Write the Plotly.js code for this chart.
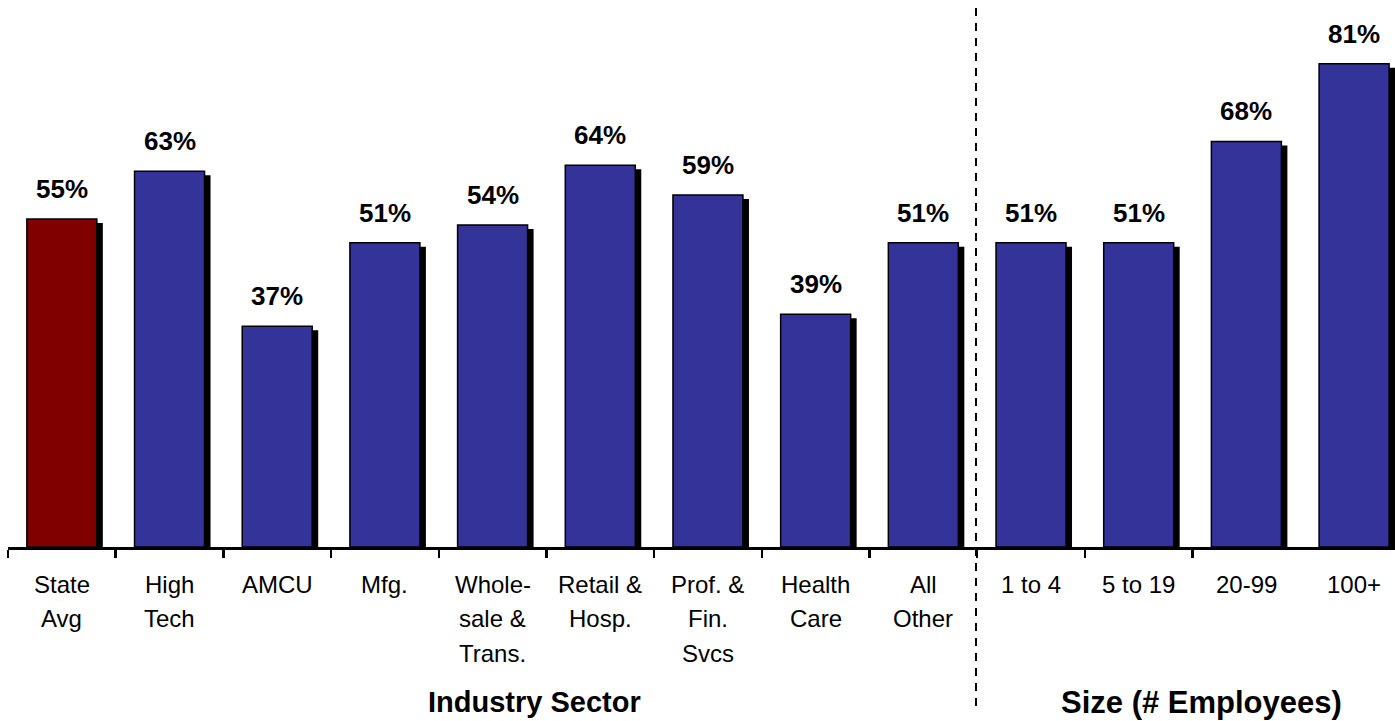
<!DOCTYPE html>
<html>
<head>
<meta charset="utf-8">
<script src="https://cdn.plot.ly/plotly-3.0.1.min.js"></script>
<style>html,body{margin:0;padding:0;background:#fff;}#chart{width:1395px;height:721px;}</style>
</head>
<body>
<div id="chart"></div>
<script>
const categories = ["State<br>Avg", "High<br>Tech", "AMCU", "Mfg.", "Whole-<br>sale &<br>Trans.", "Retail &<br>Hosp.", "Prof. &<br>Fin.<br>Svcs", "Health<br>Care", "All<br>Other", "1 to 4", "5 to 19", "20-99", "100+"];
const values = [55, 63, 37, 51, 54, 64, 59, 39, 51, 51, 51, 68, 81];
const valueLabels = ["55%", "63%", "37%", "51%", "54%", "64%", "59%", "39%", "51%", "51%", "51%", "68%", "81%"];
const barColors = ["#800000", "#333399", "#333399", "#333399", "#333399", "#333399", "#333399", "#333399", "#333399", "#333399", "#333399", "#333399", "#333399"];
const groupTitles = ["Industry Sector", "Size (# Employees)"];

const FONT = "Liberation Sans, Arial, Helvetica, sans-serif";
const idx = values.map((v, i) => i);
const pxPerCat = 1387 / 12.88;
const pxPerPct = 5.965;
const W = 0.65;

const shadow = {
  type: "bar", x: idx, y: values,
  base: idx.map(() => -4 / pxPerPct),
  width: idx.map(() => W), offset: idx.map(() => -W / 2 + 6 / pxPerCat),
  marker: {color: "#000", line: {width: 0}},
  hoverinfo: "skip", showlegend: false
};
const bars = {
  type: "bar", x: idx, y: values,
  width: idx.map(() => W), offset: idx.map(() => -W / 2),
  marker: {color: barColors, line: {color: "#000", width: 1.5}},
  showlegend: false
};

const annotations = [];
values.forEach((v, i) => {
  annotations.push({x: i, y: v, xref: "x", yref: "y", text: valueLabels[i], showarrow: false,
    xanchor: "center", yanchor: "bottom", yshift: 13, font: {family: FONT, size: 26, color: "#000", weight: "bold"}});
  categories[i].split("<br>").forEach((line, j) => {
    annotations.push({x: i, y: 0, xref: "x", yref: "paper", text: line, showarrow: false,
      xanchor: "center", yanchor: "middle", yshift: -37 - 34.5 * j, font: {family: FONT, size: 24, color: "#000"}});
  });
});
annotations.push({x: (534 - 8) / 1387, y: 0, xref: "paper", yref: "paper", text: groupTitles[0], showarrow: false,
  xanchor: "center", yanchor: "middle", yshift: -155, font: {family: FONT, size: 29, color: "#000", weight: "bold"}});
annotations.push({x: (1201 - 8) / 1387, y: 0, xref: "paper", yref: "paper", text: groupTitles[1], showarrow: false,
  xanchor: "center", yanchor: "middle", yshift: -155, font: {family: FONT, size: 31, color: "#000", weight: "bold"}});

const tickvals = [];
for (let i = 0; i < 12; i++) tickvals.push(i - 0.5);

const layout = {
  width: 1395, height: 721,
  margin: {l: 8, r: 0, t: 0, b: 174, pad: 0},
  paper_bgcolor: "#fff", plot_bgcolor: "#fff",
  barmode: "overlay",
  xaxis: {range: [-0.5, 12.38], tickmode: "array", tickvals: tickvals, showticklabels: false,
    ticks: "outside", ticklen: 8, tickwidth: 2.5, tickcolor: "#000",
    showline: true, linecolor: "#000", linewidth: 3, showgrid: false, zeroline: false, fixedrange: true},
  yaxis: {range: [0, 547 / pxPerPct], visible: false, showgrid: false, zeroline: false, fixedrange: true},
  shapes: [{type: "line", xref: "paper", yref: "paper", x0: (976 - 8) / 1387, x1: (976 - 8) / 1387,
    y0: 1 - 8 / 547, y1: -(706 - 547) / 547, line: {color: "#000", width: 2, dash: "8px,7px"}}],
  annotations: annotations,
  showlegend: false
};

Plotly.newPlot("chart", [shadow, bars], layout, {displayModeBar: false, staticPlot: true});
</script>
</body>
</html>
